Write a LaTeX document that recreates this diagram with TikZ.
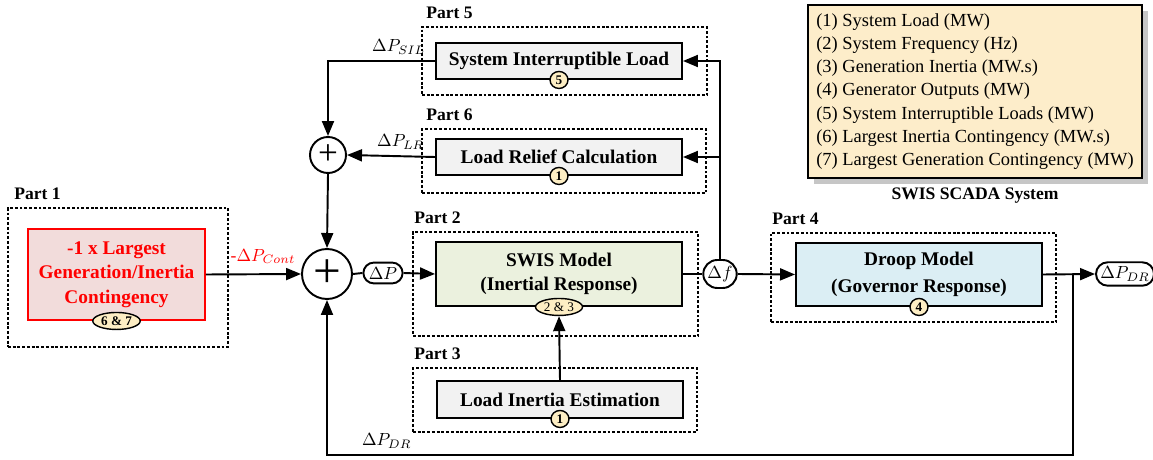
\documentclass[tikz,border=0pt]{standalone}
\usepackage{fontspec}
\setmainfont{Liberation Serif}
\usetikzlibrary{arrows.meta,positioning,shapes.misc,shapes.geometric,shadows}
\definecolor{redfill}{RGB}{242,220,219}
\definecolor{greenfill}{RGB}{235,241,222}
\definecolor{bluefill}{RGB}{219,238,244}
\definecolor{grayfill}{RGB}{242,242,242}
\definecolor{badgefill}{RGB}{253,238,196}
\definecolor{legendfill}{RGB}{253,237,202}
\tikzset{
	partbox/.style={
		rectangle,
		draw,
		line width=0.9pt,
		dash pattern=on 1.6pt off 1.1pt
	},
	partlabel/.style={
		anchor=south west,
		font=\bfseries,
		inner sep=1pt
	},
	block/.style={
		rectangle,
		draw,
		line width=1.1pt,
		fill=grayfill,
		minimum width=49.2mm,
		align=center,
		font=\bfseries
	},
	badge/.style={
		ellipse,
		draw,
		line width=0.8pt,
		fill=badgefill,
		inner sep=0.8pt,
		minimum width=3.6mm,
		minimum height=3.4mm,
		font=\fontsize{7.5}{8}\selectfont\bfseries
	},
	sumbig/.style={
		circle,
		draw,
		line width=1.1pt,
		fill=white,
		minimum size=10mm,
		inner sep=0pt,
		font=\fontsize{28}{28}\selectfont
	},
	sumsmall/.style={
		sumbig,
		minimum size=7.2mm,
		font=\fontsize{20}{20}\selectfont
	},
	signal/.style={
		rounded rectangle,
		draw,
		line width=1.1pt,
		fill=white,
		inner xsep=2pt,
		inner ysep=2.5pt
	},
	arrow/.style={
		draw,
		line width=1.1pt,
		-{Triangle[length=3mm,width=2.4mm]}
	},
	line/.style={
		draw,
		line width=1.1pt
	},
	legend/.style={
		rectangle,
		draw,
		line width=1.2pt,
		fill=legendfill,
		drop shadow={opacity=0.45,shadow xshift=1.2mm,shadow yshift=-1.2mm},
		minimum width=66.8mm,
		minimum height=34.6mm,
		align=left,
		font=\fontsize{10.5}{13.2}\selectfont
	},
}

\begin{document}
\begin{tikzpicture}[x=0.2mm,y=-0.2mm]
	\useasboundingbox (0,0) rectangle (1153,460);
	% parts (dashed frames)
	\node[partbox,minimum width=44mm,minimum height=27.8mm] (p1) at (118,277.5) {};
	\node[partbox,minimum width=57mm,minimum height=20.8mm] (p2) at (555.5,284) {};
	\node[partbox,minimum width=56.8mm,minimum height=12.8mm] (p3) at (555,400) {};
	\node[partbox,minimum width=57mm,minimum height=17.8mm] (p4) at (913.5,277.5) {};
	\node[partbox,minimum width=57mm,minimum height=13.6mm] (p5) at (564.5,61) {};
	\node[partbox,minimum width=56.8mm,minimum height=12.8mm] (p6) at (564,161) {};
	\node[partlabel] at ([xshift=1mm,yshift=1mm]p1.north west) {Part 1};
	\node[partlabel] at ([yshift=1mm]p2.north west) {Part 2};
	\node[partlabel] at ([yshift=1mm]p3.north west) {Part 3};
	\node[partlabel] at ([yshift=1mm]p4.north west) {Part 4};
	\node[partlabel] at ([xshift=0.6mm,yshift=1mm]p5.north west) {Part 5};
	\node[partlabel] at ([xshift=0.6mm,yshift=1mm]p6.north west) {Part 6};

	% blocks
	\node[block,draw=red,text=red,fill=redfill,minimum width=35.4mm,minimum height=18.2mm,
		font=\fontsize{11}{14}\selectfont\bfseries] (cont) at (116.5,274.5)
		{-1 x Largest\\Generation/Inertia\\Contingency};
	\node[block,fill=greenfill,minimum height=12.8mm,font=\fontsize{11}{14}\selectfont\bfseries] (swis) at (559,274)
		{SWIS Model\\(Inertial Response)};
	\node[block,minimum height=7.4mm,font=\fontsize{11}{13}\selectfont\bfseries] (lie) at (560,399.5) {Load Inertia Estimation};
	\node[block,fill=bluefill,minimum height=12.6mm,font=\fontsize{11}{15}\selectfont\bfseries] (droop) at (919,274.5)
		{Droop Model\\(Governor Response)};
	\node[block,minimum height=7.2mm,font=\fontsize{11}{13}\selectfont\bfseries] (sil) at (559,61) {System Interruptible Load};
	\node[block,minimum height=7.2mm,font=\fontsize{11}{13}\selectfont\bfseries] (lr) at (559,157) {Load Relief Calculation};

	% data badges
	\node[badge,minimum width=9.4mm] (b67) at (cont.south) {6 \& 7};
	\node[badge,minimum width=9.4mm,font=\fontsize{7.5}{8}\selectfont] (b23) at (swis.south) {2 \& 3};
	\node[badge] (b1a) at (lie.south) {1};
	\node[badge] (b4) at (droop.south) {4};
	\node[badge] (b5) at (sil.south) {5};
	\node[badge] (b1b) at (lr.south) {1};

	% summing junctions and signals
	\node[sumbig] (sum) at (327,274) {+};
	\node[sumsmall] (ssum) at (328,155) {+};
	\node[signal] (dp) at (383,273) {$\Delta P$};
	\node[signal,inner xsep=1pt,minimum height=5.6mm] (df) at (720,274) {$\Delta f$};
	\node[signal,inner xsep=1pt] (dpdr) at (1125,274) {$\Delta P_{DR}$};
	\coordinate (branch) at (1073,274);
	\coordinate (low) at (1073,455);

	% connections
	\draw[arrow] (cont.east) -- node[pos=0.6,above=2pt,text=red] {-$\Delta P_{Cont}$} (sum.west);
	\draw[line] (sum.east) -- (dp.west);
	\draw[arrow] (dp.east) -- (swis.west);
	\draw[line] (swis.east) -- (df.west);
	\draw[arrow] (df.east) -- (droop.west);
	\draw[arrow] (df.north) |- (sil.east);
	\draw[arrow] (df.north |- lr.east) -- (lr.east);
	\draw[arrow] (sil.west) -| node[pos=0.17,above] {$\Delta P_{SIL}$} (ssum.north);
	\draw[arrow] (lr.west) -- node[pos=0.39,above] {$\Delta P_{LR}$} (ssum.east);
	\draw[arrow] (ssum.south) -- (sum.north);
	\draw[arrow] (lie.north) -- (b23.south);
	\draw[arrow] (droop.east) -- (dpdr.west);
	\draw[arrow] (branch) -- (low) -| node[pos=0.46,above] {$\Delta P_{DR}$} (sum.south);

	% SCADA data legend
	\node[legend] (scada) at (975,91.5) {(1) System Load (MW)\\(2) System Frequency (Hz)\\(3) Generation Inertia (MW.s)\\(4) Generator Outputs (MW)\\(5) System Interruptible Loads (MW)\\(6) Largest Inertia Contingency (MW.s)\\(7) Largest Generation Contingency (MW)};
	\node[font=\bfseries,below=0.5mm of scada] (scadalabel) {SWIS SCADA System};
\end{tikzpicture}
\end{document}
